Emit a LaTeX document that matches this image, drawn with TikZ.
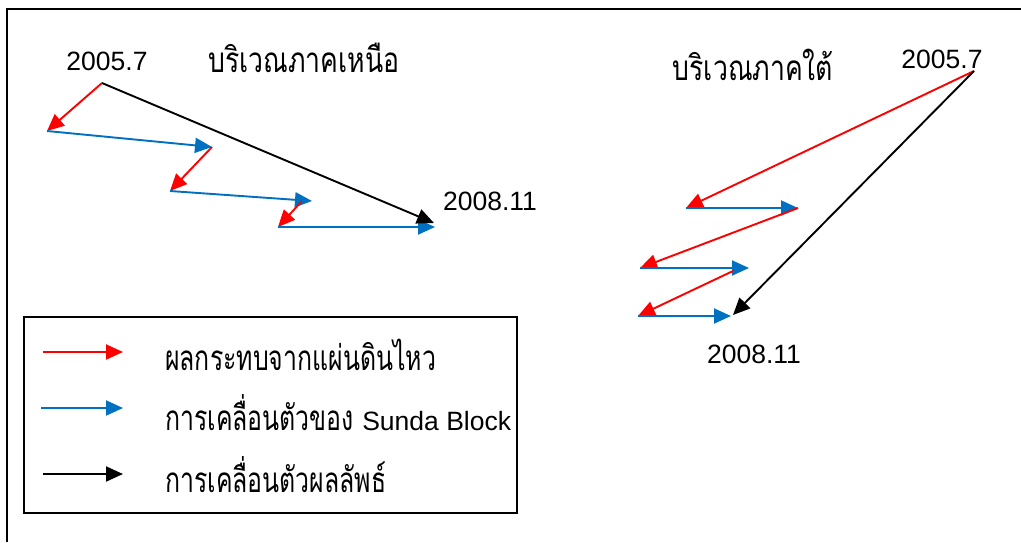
\documentclass[tikz,border=0pt]{standalone}
\usepackage{fontspec}
\setmainfont{Liberation Sans}
\newfontfamily\thaifont[Script=Thai,FakeStretch=0.71]{Loma}
\newfontfamily\thaiwide[Script=Thai,FakeStretch=0.76]{Loma}
\usetikzlibrary{arrows.meta}
\definecolor{eqred}{RGB}{255,0,0}
\definecolor{sundablue}{RGB}{0,112,192}
\tikzset{
  vec/.style={line width=1.9pt,-{Triangle[length=17pt,width=15pt]}},
  quake/.style={vec,eqred},
  block/.style={vec,sundablue},
  result/.style={vec,black},
  lbl/.style={inner sep=0pt,font=\fontsize{26.5}{30}\selectfont},
  thai/.style={inner sep=0pt,font=\fontsize{35}{40}\selectfont\thaifont},
  thaititle/.style={inner sep=0pt,font=\fontsize{35}{40}\selectfont\thaiwide},
}
\begin{document}
\begin{tikzpicture}[x=1pt,y=-1pt]
\useasboundingbox[fill=white] (0,0) rectangle (1021,542);
% outer frame (top and left edges)
\draw[line width=2pt] (1021,9) -- (7,9) -- (7,542);
% ---------- north ----------
\coordinate (n0) at (102,83);
\coordinate (n1) at (47,131);
\coordinate (n2) at (212,147);
\coordinate (n3) at (170,191);
\coordinate (n4) at (312,201);
\coordinate (n4r) at (302,201);
\coordinate (n5) at (278,227);
\coordinate (n6) at (435,227);
\coordinate (n7) at (434,223);
\draw[quake] (n0) -- (n1);
\draw[block] (n1) -- (n2);
\draw[quake] (n2) -- (n3);
\draw[block] (n3) -- (n4);
\draw[quake] (n4r) -- (n5);
\draw[block] (n5) -- (n6);
\draw[result] (n0) -- (n7);
\node[lbl] (nstart) at (107,61) {2005.7};
\node[thaititle] (ntitle) at (304,58) {บริเวณภาคเหนือ};
\node[lbl] (nend) at (490,201) {2008.11};
% ---------- south ----------
\coordinate (s0) at (974,71);
\coordinate (s1) at (686,208);
\coordinate (s2) at (798,208);
\coordinate (s3) at (640,268);
\coordinate (s4) at (749,268);
\coordinate (s4r) at (733,271);
\coordinate (s5) at (638,316);
\coordinate (s6) at (731,316);
\coordinate (s7) at (733,315);
\draw[quake] (s0) -- (s1);
\draw[block] (s1) -- (s2);
\draw[quake] (s2) -- (s3);
\draw[block] (s3) -- (s4);
\draw[quake] (s4r) -- (s5);
\draw[block] (s5) -- (s6);
\draw[result] (s0) -- (s7);
\node[thaititle] (stitle) at (753,65) {บริเวณภาคใต้};
\node[lbl] (sstart) at (942,59) {2005.7};
\node[lbl] (send) at (754,354) {2008.11};
% ---------- legend ----------
\node[draw,line width=1.3pt,minimum width=493pt,minimum height=196pt,inner sep=0pt] (legend) at (270.5,415) {};
\coordinate (la) at (43,352);
\coordinate (lb) at (123,352);
\coordinate (lc) at (41,408);
\coordinate (ld) at (123,408);
\coordinate (le) at (43,474);
\coordinate (lf) at (123,474);
\draw[quake] (la) -- (lb);
\draw[block] (lc) -- (ld);
\draw[result] (le) -- (lf);
\node[thai,anchor=west] (t1) at (165,355) {ผลกระทบจากแผ่นดินไหว};
\node[thai,anchor=west] (t2) at (165,413) {การเคลื่อนตัวของ {\fontspec{Liberation Sans}\fontsize{26.5}{30}\selectfont Sunda Block}};
\node[thai,anchor=west] (t3) at (165,475) {การเคลื่อนตัวผลลัพธ์};
\end{tikzpicture}
\end{document}
